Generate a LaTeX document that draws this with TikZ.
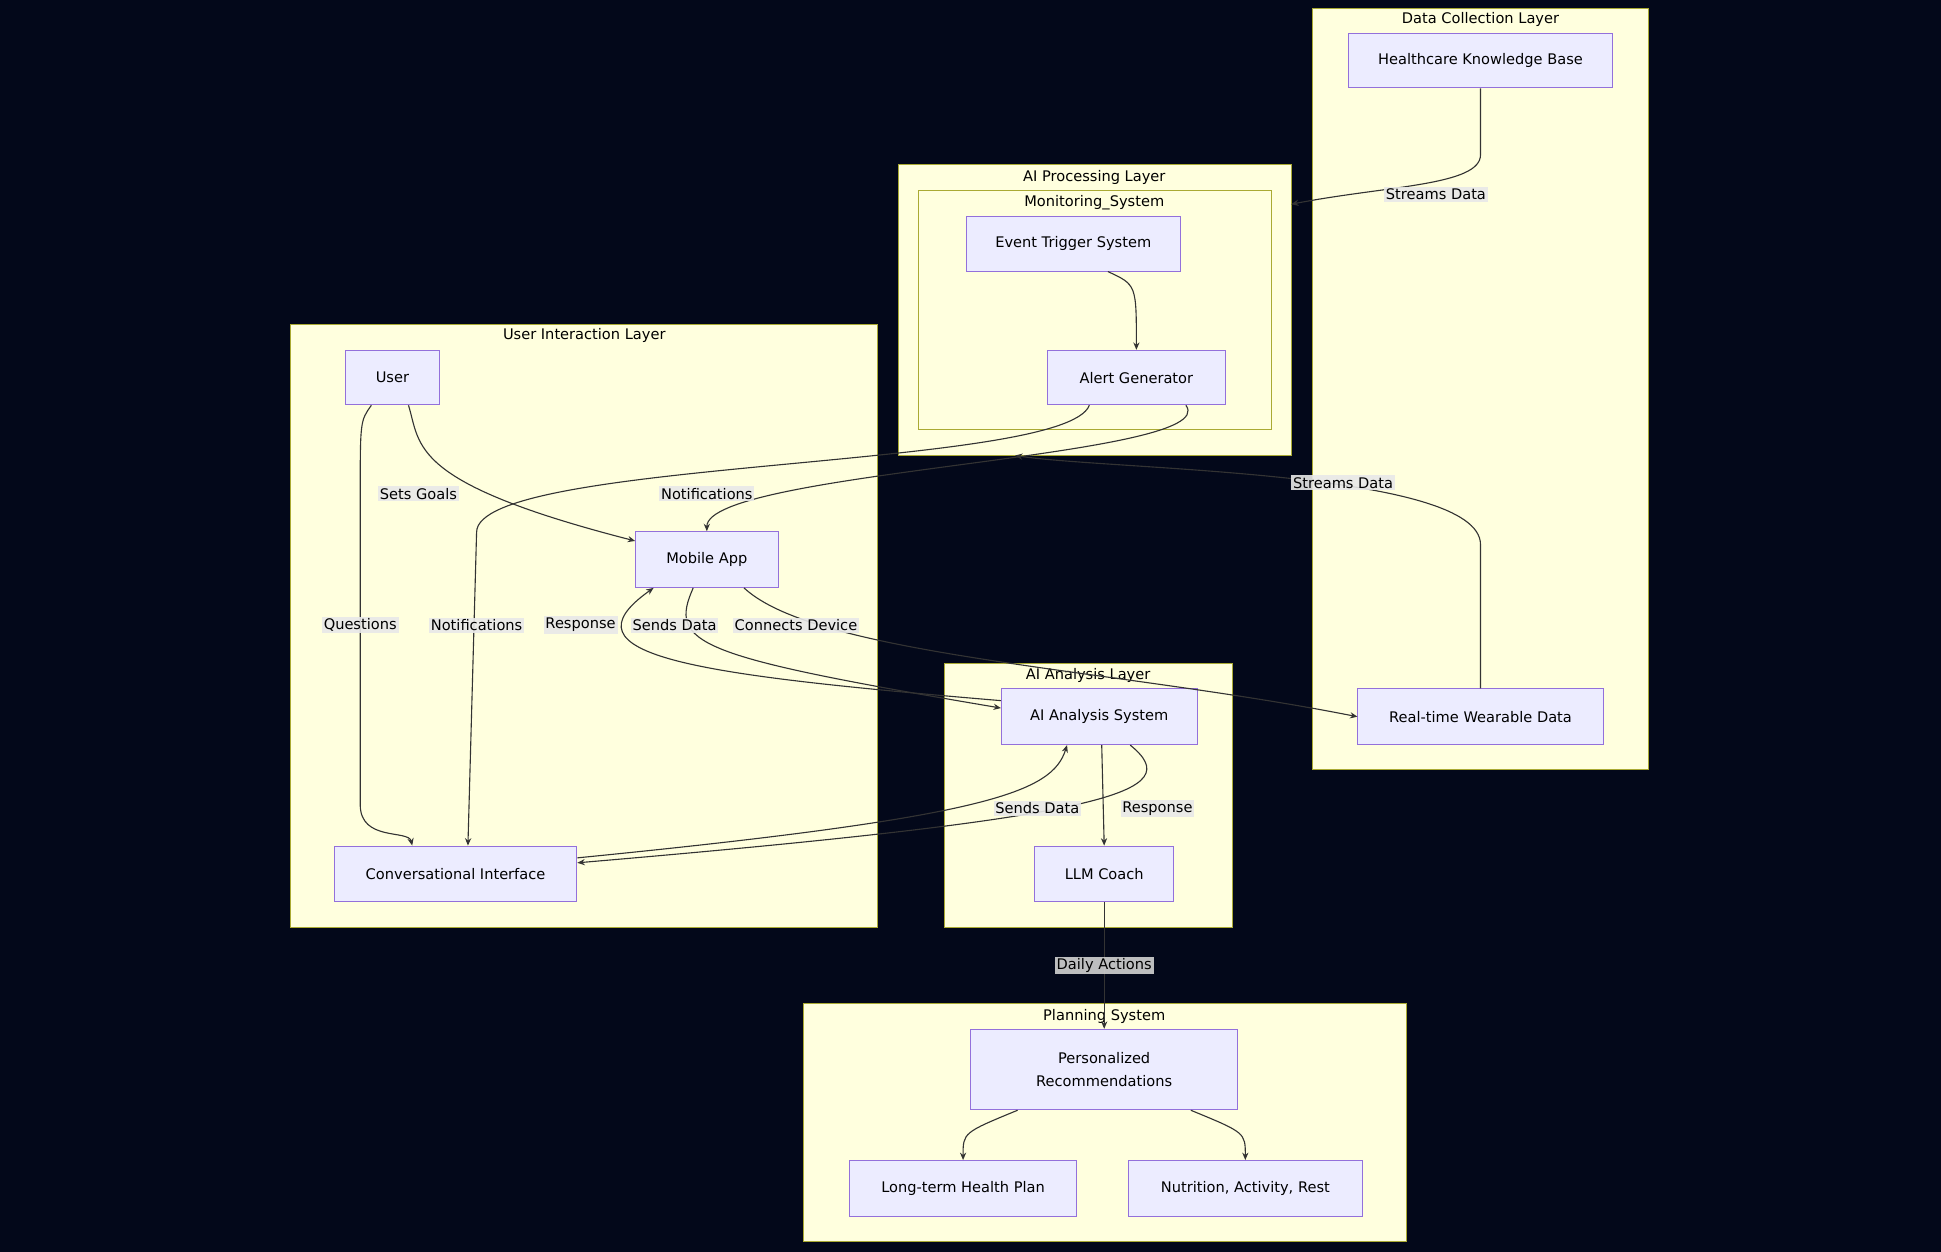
\documentclass[tikz,border=0pt]{standalone}
\usepackage{fontspec}
\setmainfont{DejaVu Sans}
\usetikzlibrary{arrows.meta}
\definecolor{bg}{HTML}{03081A}
\definecolor{cl}{HTML}{FFFFDE}
\definecolor{clb}{HTML}{AAAA33}
\definecolor{nd}{HTML}{ECECFF}
\definecolor{ndb}{HTML}{9370DB}
\definecolor{ln}{HTML}{333333}
\begin{document}
\begin{tikzpicture}[x=1pt,y=-1pt,font=\fontsize{11.8}{14}\selectfont,
 clus/.style={draw=clb,fill=cl,line width=0.8pt},
 ctitle/.style={text=black,anchor=center},
 box/.style={draw=ndb,fill=nd,line width=0.8pt,align=center,text=black},
 e/.style={draw=ln,line width=0.9pt,-{Stealth[length=6pt,width=5pt]}},
 lab/.style={fill=gray!18,fill opacity=0.9,text opacity=1,inner sep=1.5pt,text=black}]
\useasboundingbox[fill=bg] (0,0) rectangle (1568,1011);
% clusters
\draw[clus] (1060,7) rectangle (1332,622); \node[ctitle] at (1196,16) {Data Collection Layer};
\draw[clus] (726,133) rectangle (1043,368); \node[ctitle] at (884,143) {AI Processing Layer};
\draw[clus] (742,154) rectangle (1027,347); \node[ctitle] at (884,164) {Monitoring\_System};
\draw[clus] (235,262) rectangle (709,749); \node[ctitle] at (472,271) {User Interaction Layer};
\draw[clus] (763,536) rectangle (996,749); \node[ctitle] at (879,546) {AI Analysis Layer};
\draw[clus] (649,811) rectangle (1136,1003); \node[ctitle] at (892,821) {Planning System};
\coordinate (procR) at (1043,165);
\coordinate (procB) at (820,368);
% nodes
\node[box,minimum width=214pt,minimum height=44pt] (hkb) at (1196,49) {Healthcare Knowledge Base};
\node[box,minimum width=173pt,minimum height=44pt] (evt) at (867,197) {Event Trigger System};
\node[box,minimum width=144pt,minimum height=44pt] (alr) at (918,305) {Alert Generator};
\node[box,minimum width=76pt,minimum height=44pt] (usr) at (317,305) {User};
\node[box,minimum width=115pt,minimum height=45pt] (mob) at (571,452) {Mobile App};
\node[box,minimum width=158pt,minimum height=45pt] (ais) at (888,579) {AI Analysis System};
\node[box,minimum width=198pt,minimum height=45pt] (rtw) at (1196,579) {Real-time Wearable Data};
\node[box,minimum width=196pt,minimum height=45pt] (cnv) at (368,706) {Conversational Interface};
\node[box,minimum width=112pt,minimum height=45pt] (llm) at (892,706) {LLM Coach};
\node[box,minimum width=216pt,minimum height=65pt,text width=200pt,font=\fontsize{11.8}{19}\selectfont] (pr) at (892,864) {Personalized\\Recommendations};
\node[box,minimum width=184pt,minimum height=45pt] (lth) at (778,960) {Long-term Health Plan};
\node[box,minimum width=189pt,minimum height=45pt] (nar) at (1006,960) {Nutrition, Activity, Rest};
% edges
\draw[e] (hkb.south) -- (1196,125) .. controls (1196,150) and (1120,150) .. (procR);
\draw[e] ([xshift=28pt]evt.south) .. controls (918,230) .. (alr.north);
\draw[e] ([xshift=-38pt]alr.south) .. controls (860,380) and (385,370) .. (385,430) -- (cnv.north -| 378,0) ;
\draw[e] ([xshift=40pt]alr.south) .. controls (990,370) and (571,380) .. (mob.north);
\draw[e] (rtw.north) -- (1196,440) .. controls (1196,380) and (900,380) .. (procB);
\draw[e] ([xshift=13pt]usr.south) .. controls (340,360) and (330,390) .. (mob.west |- 0,437);
\draw[e] ([xshift=-17pt]usr.south) .. controls (291,340) .. (291,400) -- (291,650) .. controls (291,680) and (330,670) .. ([xshift=-35pt]cnv.north);
\draw[e] ([xshift=-11pt]mob.south) .. controls (540,520) and (560,530) .. (ais.west |- 0,572);
\draw[e] ([xshift=30pt]mob.south) .. controls (660,530) and (900,540) .. (rtw.west);
\draw[e] (ais.west |- 0,566) .. controls (560,545) and (450,530) .. ([xshift=-43pt]mob.south);
\draw[e] ([xshift=2pt]ais.south) -- (llm.north);
\draw[e] ([xshift=25pt]ais.south) .. controls (960,640) and (900,660) .. (cnv.east |- 0,697);
\draw[e] (cnv.east |- 0,693) .. controls (800,660) and (850,640) .. ([xshift=-26pt]ais.south);
\draw[e] (llm.south) -- (pr.north);
\draw[e] ([xshift=-70pt]pr.south) .. controls (778,915) .. (lth.north);
\draw[e] ([xshift=70pt]pr.south) .. controls (1006,915) .. (nar.north);
% labels
\node[lab] at (1160,157) {Streams Data};
\node[lab] at (1085,390) {Streams Data};
\node[lab] at (385,505) {Notifications};
\node[lab] at (571,399) {Notifications};
\node[lab] at (338,399) {Sets Goals};
\node[lab] at (291,505) {Questions};
\node[lab] at (545,505) {Sends Data};
\node[lab] at (643,505) {Connects Device};
\node[lab] at (469,505) {Response};
\node[lab] at (935,653) {Response};
\node[lab] at (838,653) {Sends Data};
\node[lab,fill=gray!35] at (892,780) {Daily Actions};
\end{tikzpicture}
\end{document}
